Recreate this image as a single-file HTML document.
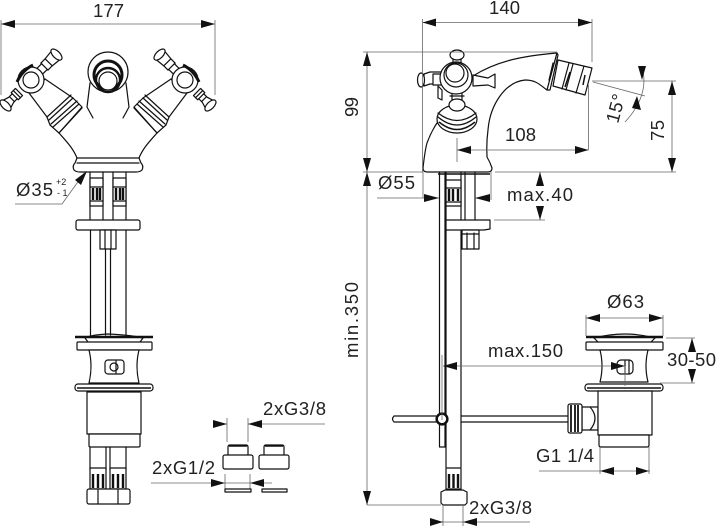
<!DOCTYPE html>
<html><head><meta charset="utf-8"><style>
html,body{margin:0;padding:0;background:#fff}
svg{display:block}
text{font-family:"Liberation Sans",sans-serif;font-size:18.500px;fill:#222}
.o{fill:none;stroke:#111;stroke-width:1.200;stroke-linejoin:round;stroke-linecap:round}
.w{fill:#fff;stroke:#111;stroke-width:1.200;stroke-linejoin:round}
.t{fill:none;stroke:#111;stroke-width:2.400}
.d{fill:none;stroke:#666;stroke-width:.8}
.a{fill:#111;stroke:none}
</style></head><body>
<svg width="717" height="527" viewBox="0 0 717 527" xmlns="http://www.w3.org/2000/svg">
<defs>
<g id="half">
<path class="o" d="M59 133C66 141 73 148 77 158"/>
<path class="w" d="M29 93L45 79L73 98L82 107L59 133L50 125L47 117Z"/>
<path class="o" d="M47 117L71 95M49 120L73 98M51 124L77 101M53 127L79 104M59 133L82 108"/>
<g transform="rotate(-45 31 80)">
<path class="w" d="M-5 74L3 76.500H8V75H14V85H8V83.500H3L-5 86Z"/>
<path class="o" d="M4 76.500V83.500M8 76V84M11 75V85"/>
<ellipse class="w" cx="-5" cy="80" rx="3.500" ry="7"/>
<path class="w" d="M42 76H50V75H56L66 74V86L56 85H50V84H42Z"/>
<path class="o" d="M50 75V85M56 75V85"/>
<ellipse class="w" cx="67" cy="80" rx="3.500" ry="7"/>
</g>
<circle class="w" cx="31" cy="80" r="13"/>
<circle class="o" cx="31" cy="80" r="8"/>
<path class="t" d="M17 82C21 73 27 68 33 65" style="stroke-width:3"/>
</g>
</defs>

<!-- LEFT VIEW -->
<use href="#half"/>
<use href="#half" transform="matrix(-1 0 0 1 216 0)"/>
<path class="o" d="M90 83L87 107L93 118M126 83L129 107L123 118"/>
<circle class="o" cx="108" cy="72" r="20"/>
<circle class="t" cx="108" cy="75" r="14" style="stroke-width:3"/>
<circle class="t" cx="108" cy="80" r="12"/>
<circle class="w" cx="108" cy="81" r="9"/>
<path class="w" d="M77 158H139L141 163Q144 166 142 170Q140 172 136 172H80Q76 172 74 170Q72 166 75 163Z"/>
<path class="o" d="M77 163H139"/>
<path class="o" d="M90 172V220M103 172V220M113 172V220M126 172V220"/>
<path class="w" d="M90 178H103V206H90ZM113 178H126V206H113Z"/>
<path class="t" d="M93 188V200M97 188V200M100 188V200M116 188V200M120 188V200M123 188V200"/>
<path class="o" d="M90 187H103M113 187H126M90 201H103M113 201H126"/>
<rect class="w" x="76" y="220" width="64" height="10" rx="2"/>
<path class="o" d="M90.500 230V335M126 230V335"/>
<path class="w" d="M100 230H116V249H100Z"/>
<path class="o" d="M105 230V249M111 230V249"/>
<path class="o" d="M105.500 249V335M110.500 249V335"/>
<path class="t" d="M75 337H153"/>
<path class="o" d="M85 338Q90 335 108 334Q130 335 143 338M85 338L88 342M143 338L140 342"/>
<rect class="w" x="77" y="342" width="75" height="8" rx="1"/>
<path class="w" d="M89 350H139Q135 366 139 383H89Q93 366 89 350Z"/>
<rect class="o" x="105" y="360" width="19" height="14" rx="3"/>
<circle class="o" cx="114" cy="367" r="4"/>
<path class="o" d="M116 361V373"/>
<rect class="w" x="75" y="384" width="78" height="7" rx="3"/>
<path class="t" d="M77 388H151" style="stroke-width:1.500"/>
<path class="w" d="M87 392H141V434H87Z"/>
<path class="w" d="M89 434H140V446Q140 447 138 447H91Q89 447 89 446Z"/>
<path class="o" d="M90 447V470M106 447V470M110 447V470M126 447V470"/>
<rect class="w" x="90" y="468" width="16" height="21"/>
<rect class="w" x="110" y="468" width="16" height="21"/>
<path class="t" d="M93 474V488M98 474V488M103 474V488M113 474V488M118 474V488M123 474V488"/>
<rect class="w" x="87" y="489" width="43" height="15" rx="2"/>
<path class="o" d="M98 490V504M118 490V504"/>

<!-- left dims -->
<path class="d" d="M1 24H215M1 20V95M215 20V95"/>
<path class="a" d="M1 24L15 20V28ZM215 24L201 20V28Z"/>
<text x="93" y="17" textLength="31">177</text>
<path class="d" d="M15 204H62L85 172"/>
<path class="a" d="M87 171L81 185L75 180Z"/>
<text x="16" y="196" textLength="37">Ø35</text>
<text x="56" y="185" style="font-size:9px">+2</text>
<text x="57" y="196" style="font-size:9px">- 1</text>

<!-- small parts -->
<path class="d" d="M213 424H227M248 424H325M227 418V442M248 418V442"/>
<path class="a" d="M227 424L213 420V428ZM248 424L262 420V428Z"/>
<text x="263" y="415" textLength="63">2xG3/8</text>
<path class="w" d="M228 447Q228 445 230 445H246Q248 445 248 447V456H228Z"/>
<rect class="w" x="223" y="455" width="30" height="14" rx="2"/>
<path class="w" d="M264 447Q264 445 266 445H282Q284 445 284 447V456H264Z"/>
<rect class="w" x="259" y="455" width="30" height="14" rx="2"/>
<path class="t" d="M229 446H247M265 446H283" style="stroke-width:1.500"/>
<path class="d" d="M151 483H272M225 474V490M250 474V490"/>
<path class="a" d="M225 483L211 479V487ZM250 483L264 479V487Z"/>
<text x="152" y="474" textLength="63">2xG1/2</text>
<rect class="w" x="225" y="489" width="26" height="3"/>
<rect class="w" x="262" y="489" width="25" height="3"/>

<!-- RIGHT VIEW -->
<path class="w" d="M473 76C495 62 520 56 557 53L547 90C541 86 537 80 525 80C505 82 490 105 488 130C486 145 487 150 487 157Q490 162 492 168Q492 172 488 172H427Q423 172 423 168Q425 150 427 143Q431 132 437 123L473 76Z"/>
<path class="w" d="M557 53L547 90L550 90L558 55Z"/>
<path class="o" d="M553 63L549 80"/>
<path class="w" d="M558 60L592 68L585 95L553 86Z"/>
<path class="o" d="M569 63L562 89M573 64L566 90M584 66L576 93"/>
<path class="t" d="M570 72L565 87M585 75L583 85" style="stroke-width:1.500"/>
<ellipse class="w" cx="457" cy="119" rx="20" ry="14"/>
<path class="t" d="M439 122Q457 137 475 122" style="stroke-width:1.500"/>
<path class="o" d="M438 117Q457 133 476 117M438 113Q457 128 476 113"/>
<path class="w" d="M452 88V100H462V88Z"/>
<ellipse class="w" cx="457" cy="105" rx="8" ry="6"/>
<path class="o" d="M450 96H464"/>
<path class="w" d="M442 72H430L424 74V86L430 84H442Z"/>
<ellipse class="w" cx="421" cy="80" rx="3.500" ry="7"/>
<rect class="w" x="433" y="74" width="9" height="11"/>
<path class="w" d="M473 75L488 78L495 74V88L488 85L473 86Z"/>
<path class="w" d="M453 70V58H461V70Z"/>
<ellipse class="w" cx="457" cy="55" rx="7" ry="5"/>
<circle class="w" cx="456" cy="78" r="16"/>
<circle class="o" cx="456" cy="75" r="12"/>
<circle class="o" cx="455" cy="73" r="9"/>
<path class="w" d="M438 86V98L442 100V90Z"/>

<!-- right pipes -->
<path class="o" d="M439.500 172V447H445V172M446 172V467M461 172V467M465 172V220M475 172V220"/>
<path class="t" d="M438 174H490" style="stroke-width:1.500"/>
<path class="w" d="M446 180H461V206H446Z"/>
<path class="t" d="M449 189V201M453 189V201M458 189V201"/>
<path class="o" d="M446 188H461M446 202H461"/>
<path class="w" d="M446 220H490V229L484 230H446Z"/>
<path class="w" d="M462 230H479V249H462Z"/>
<path class="o" d="M467 233V249M474 233V249M462 234H479"/>
<path class="o" d="M394 416H436M394 422H436M394 416Q391 419 394 422M461 416H568M461 422H568"/>
<circle class="w" cx="442" cy="419" r="6"/>
<circle class="t" cx="442" cy="419" r="5" style="stroke-width:1.800"/>
<rect class="w" x="446" y="468" width="15" height="21"/>
<path class="t" d="M449 474V488M453.500 474V488M458 474V488"/>
<path class="w" d="M441 492L445 490H463L467 492V503L465 505H443L441 503Z"/>

<!-- right drain -->
<path class="t" d="M586 337H663"/>
<path class="o" d="M594 338Q610 334 625 334Q640 334 655 338M594 338L598 342M655 338L651 342"/>
<rect class="w" x="586" y="342" width="77" height="8" rx="1"/>
<path class="w" d="M600 350H648Q644 366 648 382H600Q604 366 600 350Z"/>
<rect class="w" x="617" y="360" width="16" height="14" rx="4"/>
<path class="o" d="M625 361V373M629 361V373"/>
<rect class="w" x="585" y="384" width="78" height="7" rx="3"/>
<path class="t" d="M587 388H661" style="stroke-width:1.500"/>
<path class="w" d="M582 407H598V430H582Z"/>
<path class="o" d="M590 407Q600 418 590 430M598 407Q604 418 598 430"/>
<rect class="w" x="568" y="404" width="14" height="29" rx="2"/>
<path class="t" d="M571 405V432M575 405V432M578 405V432" style="stroke-width:1.800"/>
<path class="w" d="M598 391H652V435H598Z"/>
<path class="w" d="M599 435H649V445Q649 447 647 447H601Q599 447 599 445Z"/>

<!-- right dims -->
<path class="d" d="M422.500 19V172M592 19V62M422.500 22.500H592"/>
<path class="a" d="M422.500 22.500L436 18.500V26.500ZM592 22.500L578 18.500V26.500Z"/>
<text x="489" y="14" textLength="31">140</text>
<path class="d" d="M363 52H557M367 52V505M363 172H423M367 505H441"/>
<path class="a" d="M367 52L363 66H371ZM367 172L363 158H371ZM367 172L363 186H371ZM367 505L363 491H371Z"/>
<text transform="translate(358 117) rotate(-90)" textLength="20">99</text>
<text transform="translate(358 358) rotate(-90)" textLength="76">min.350</text>
<path class="d" d="M457 138V162M588.500 85V150M457 150H588.500"/>
<path class="a" d="M457 150L471 146V154ZM588.500 150L575 146V154Z"/>
<text x="505" y="141" textLength="31">108</text>
<path class="d" d="M592 81H676M495 172H676M672 81V172"/>
<path class="a" d="M672 81L668 95H676ZM672 172L668 158H676Z"/>
<text transform="translate(664 141) rotate(-90)" textLength="21">75</text>
<path class="d" d="M593 82L645 96M642 67Q650 95 625 122"/>
<path class="a" d="M642 80L638 66H646ZM637 96L641 110L632 108Z"/>
<text transform="translate(618 124) rotate(-75)" textLength="29">15°</text>
<path class="d" d="M423 172V198M491 172V200M377 198H439M475 198H490"/>
<path class="a" d="M439 198L424 194V202ZM475 198L490 194V202Z"/>
<text x="378" y="189" textLength="37">Ø55</text>
<path class="d" d="M494 220H545M540 172V186M540 206V220"/>
<path class="a" d="M540 172L536 186H544ZM540 220L536 206H544Z"/>
<text x="507" y="201" textLength="66">max.40</text>
<path class="d" d="M586 315V336M663 315V336M586 318H663"/>
<path class="a" d="M586 318L600 314V322ZM663 318L649 314V322Z"/>
<text x="607" y="308" textLength="37">Ø63</text>
<path class="d" d="M666 338H695M660 383H695M692 338V351M692 370V383"/>
<path class="a" d="M692 338L688 352H696ZM692 383L688 369H696Z"/>
<text x="667" y="366" textLength="49">30-50</text>
<path class="d" d="M442 355V420M443 366H625M625 366V386"/>
<path class="a" d="M443 366L457 362V370ZM625 366L611 362V370Z"/>
<text x="488" y="357" textLength="75">max.150</text>
<path class="d" d="M539 471H650M600 447V474M649 447V474"/>
<path class="a" d="M600 471L614 467V475ZM649 471L636 467V475Z"/>
<text x="536" y="462" textLength="58">G1 1/4</text>
<path class="d" d="M443 505V526M463 505V526M430 522H530"/>
<path class="a" d="M443 522L430 518V526ZM463 522L477 518V526Z"/>
<text x="469" y="514" textLength="63">2xG3/8</text>
</svg>
</body></html>
